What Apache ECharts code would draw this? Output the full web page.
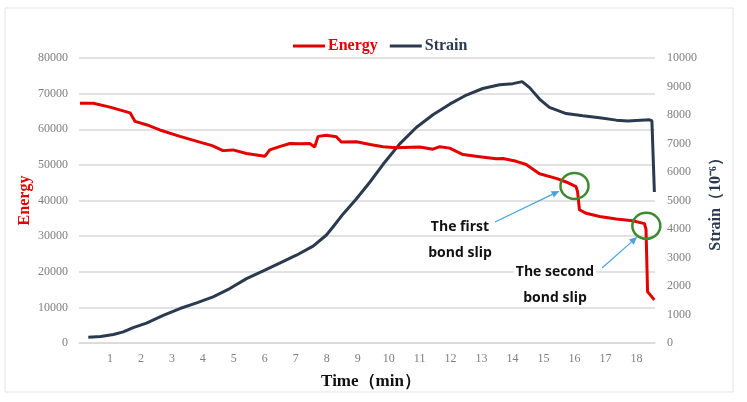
<!DOCTYPE html>
<html><head><meta charset="utf-8">
<script src="https://cdn.jsdelivr.net/npm/echarts@6/dist/echarts.min.js"></script>
<style>html,body{margin:0;padding:0;background:#fff}#c{width:747px;height:402px}</style>
</head><body><div id="c"></div>
<script>
// ---- data ----
const timeTicks = [1,2,3,4,5,6,7,8,9,10,11,12,13,14,15,16,17,18];
const energyTime = [0.03,0.46,1.0,1.65,1.81,2.2,2.61,3.26,3.9,4.3,4.65,4.97,5.41,6.0,6.16,6.5,6.81,7.13,7.45,7.61,7.72,7.99,8.31,8.47,8.96,9.4,9.82,10.25,10.46,11.0,11.43,11.65,11.97,12.4,12.94,13.47,13.69,14.12,14.44,14.87,15.41,15.73,16.05,16.1,16.16,16.38,16.81,17.35,17.88,18.26,18.31,18.36,18.58];
const energyValues = [67300,67300,66200,64600,62200,61200,59800,58000,56400,55400,54000,54200,53200,52400,54200,55200,56000,55900,56000,55000,58000,58300,57900,56400,56500,55700,55100,54800,54900,55000,54400,55100,54700,52900,52300,51700,51800,51000,50100,47500,46200,45200,43900,42500,37400,36400,35500,34800,34300,33500,31900,14400,12100];
const strainTime = [0.3,0.7,1.11,1.43,1.75,2.18,2.72,3.26,3.8,4.33,4.87,5.41,5.95,6.48,7.02,7.56,7.99,8.2,8.53,8.96,9.39,9.82,10.35,10.89,11.43,11.97,12.51,13.04,13.58,14.01,14.31,14.55,14.87,15.19,15.73,16.27,16.81,17.35,17.72,18.42,18.5,18.58];
const strainValues = [200,230,300,390,540,700,970,1210,1410,1620,1910,2260,2530,2800,3080,3400,3790,4070,4530,5060,5640,6270,6980,7560,8010,8380,8700,8930,9060,9100,9170,8960,8560,8270,8050,7970,7900,7820,7790,7830,7800,5300];
const energyMax = 80000, energyStep = 10000;
const strainMax = 10000, strainStep = 1000;
// bond-slip annotation anchors [time, energy]
const slipPoints = [[16.0, 44100], [18.32, 32900]];
const slipLabels = [['The first','bond slip'], ['The second','bond slip']];

const RED = '#e50000', NAVY = '#2b3a4f', GRAY = '#7f7f7f', SERIF = 'Liberation Serif';

const chart = echarts.init(document.getElementById('c'));
const zip = (a, b) => a.map((v, i) => [v, b[i]]);
const plain = v => String(v);

chart.setOption({
  animation: false,
  backgroundColor: '#fff',
  grid: { left: 79, right: 92, top: 58, bottom: 59 },
  legend: {
    left: 288, top: 33, itemWidth: 32, itemHeight: 14, itemGap: 12,
    icon: 'path://M0,5 L32,5 L32,8 L0,8 Z',
    data: [
      { name: 'Energy', textStyle: { color: RED } },
      { name: 'Strain', textStyle: { color: NAVY } }
    ],
    textStyle: { fontFamily: SERIF, fontWeight: 'bold', fontSize: 16, padding: [0,0,0,-2] }
  },
  xAxis: {
    type: 'value', min: 0, max: 18.6,
    name: 'Time（min）', nameLocation: 'middle', nameGap: 30,
    nameTextStyle: { fontFamily: SERIF, fontWeight: 'bold', fontSize: 17, color: '#111', padding: [0,0,0,8] },
    axisLine: { show: true, onZero: false, lineStyle: { color: '#d9d9d9', width: 1.5 } },
    axisTick: { show: false },
    splitLine: { show: false },
    axisLabel: { customValues: timeTicks, formatter: plain, fontFamily: SERIF, fontSize: 12, color: GRAY, margin: 10 }
  },
  yAxis: [
    {
      type: 'value', min: 0, max: energyMax, interval: energyStep, position: 'left',
      name: 'Energy', nameLocation: 'middle', nameRotate: 90, nameGap: 46, nameMoveOverlap: false,
      nameTextStyle: { fontFamily: SERIF, fontWeight: 'bold', fontSize: 16, color: RED },
      axisLine: { show: false }, axisTick: { show: false },
      splitLine: { lineStyle: { color: '#d9d9d9', width: 1.5 } },
      axisLabel: { formatter: plain, fontFamily: SERIF, fontSize: 12, color: GRAY, margin: 11 }
    },
    {
      type: 'value', min: 0, max: strainMax, interval: strainStep, position: 'right',
      name: 'Strain（10⁻⁶）', nameLocation: 'middle', nameRotate: 90, nameGap: 51,
      nameTextStyle: { fontFamily: SERIF, fontWeight: 'bold', fontSize: 16, color: NAVY },
      axisLine: { show: false }, axisTick: { show: false }, splitLine: { show: false },
      axisLabel: { formatter: plain, fontFamily: SERIF, fontSize: 12, color: GRAY, margin: 12 }
    }
  ],
  series: [
    { name: 'Energy', type: 'line', yAxisIndex: 0, data: zip(energyTime, energyValues),
      showSymbol: false, lineStyle: { color: RED, width: 3 }, itemStyle: { color: RED }, z: 3 },
    { name: 'Strain', type: 'line', yAxisIndex: 1, data: zip(strainTime, strainValues),
      showSymbol: false, lineStyle: { color: NAVY, width: 3 }, itemStyle: { color: NAVY }, z: 2 }
  ]
});

// annotations
const g = [];
g.push({ type: 'rect', shape: { x: 5, y: 8, width: 728, height: 384 }, style: { fill: 'none', stroke: '#e3e3e3', lineWidth: 1 }, z: 0, silent: true });
const centers = slipPoints.map(p => chart.convertToPixel({ xAxisIndex: 0, yAxisIndex: 0 }, p));
centers.forEach(c => g.push({ type: 'ellipse', shape: { cx: c[0], cy: c[1], rx: 14, ry: 13 }, style: { fill: 'none', stroke: '#3d8b2f', lineWidth: 2.5 }, z: 10 }));
function arrow(x1, y1, x2, y2) {
  const a = Math.atan2(y2 - y1, x2 - x1), L = 8, W = 3.5;
  const bx = x2 - L * Math.cos(a), by = y2 - L * Math.sin(a);
  g.push({ type: 'line', shape: { x1, y1, x2: bx, y2: by }, style: { stroke: '#4aa3df', lineWidth: 1.2 }, z: 10 });
  g.push({ type: 'polygon', shape: { points: [[x2, y2], [bx - W * Math.sin(a), by + W * Math.cos(a)], [bx + W * Math.sin(a), by - W * Math.cos(a)]] }, style: { fill: '#4aa3df' }, z: 10 });
}
arrow(495, 222, centers[0][0] - 15, centers[0][1] + 5);
arrow(602, 268, centers[1][0] - 9, centers[1][1] + 11);
const textPos = [[460, 227, 253], [555, 272, 298]];
slipLabels.forEach((lines, i) => {
  lines.forEach((t, j) => g.push({ type: 'text', x: textPos[i][0], y: textPos[i][1 + j],
    style: { text: t, fontFamily: 'Open Sans', fontWeight: 'bold', fontSize: 14, fill: '#111', align: 'center', verticalAlign: 'middle', backgroundColor: '#fff', padding: [0, 2] }, z: 9 }));
});
chart.setOption({ graphic: g });
</script></body></html>
